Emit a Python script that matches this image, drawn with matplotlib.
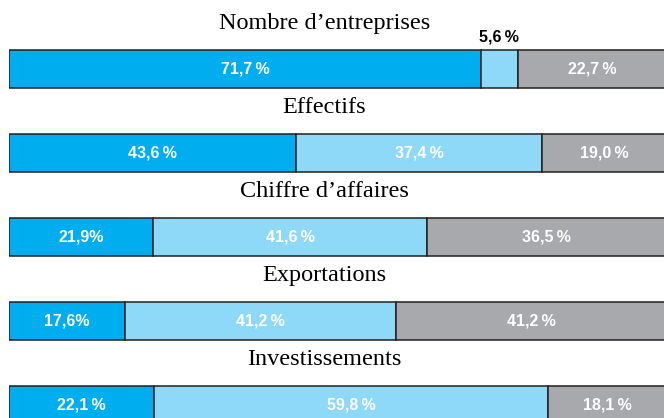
import numpy as np
import matplotlib.pyplot as plt
import matplotlib.transforms as mtransforms

# Données (parts en %)
categories = ["Nombre d\u2019entreprises", "Effectifs", "Chiffre d\u2019affaires",
              "Exportations", "Investissements"]
part1 = [71.7, 43.6, 21.9, 17.6, 22.1]
part2 = [5.6, 37.4, 41.6, 41.2, 59.8]
part3 = [22.7, 19.0, 36.5, 41.2, 18.1]
labels1 = ["71,7\u2009%", "43,6\u2009%", "21,9%", "17,6%", "22,1\u2009%"]
labels2 = ["5,6\u2009%", "37,4\u2009%", "41,6\u2009%", "41,2\u2009%", "59,8\u2009%"]
labels3 = ["22,7\u2009%", "19,0\u2009%", "36,5\u2009%", "41,2\u2009%", "18,1\u2009%"]

colors = ["#00AEEF", "#8ED8F8", "#A7A9AC"]
lab_font = ["Liberation Sans Narrow", "Liberation Sans", "DejaVu Sans"]

fig = plt.figure(figsize=(6.64, 4.18), dpi=100)
ax = fig.add_axes([9 / 664, 0, 658 / 664, 1])

y = np.arange(len(categories))
h = 0.452
left = np.zeros(len(categories))
for vals, labs, col in zip([part1, part2, part3], [labels1, labels2, labels3], colors):
    vals = np.array(vals)
    ax.barh(y, vals, left=left, height=h, color=col, edgecolor="#231F20", linewidth=1.1)
    for i, (v, l) in enumerate(zip(vals, labs)):
        cx = left[i] + v / 2
        if v < 10:
            # petit segment : étiquette au-dessus, en noir
            ax.text(cx, y[i] - 0.38, l, ha="center", va="center", color="black",
                    fontsize=11.5, fontweight="bold", family=lab_font)
        else:
            ax.text(cx, y[i], l, ha="center", va="center", color="white",
                    fontsize=11.5, fontweight="bold", family=lab_font)
    left = left + vals

# Titres au-dessus de chaque barre
trans = mtransforms.blended_transform_factory(ax.transAxes, ax.transData)
for i, c in enumerate(categories):
    ax.text(0.479, y[i] - 0.54, c, transform=trans, ha="center", va="center",
            fontsize=17.5, family=["Liberation Serif", "DejaVu Serif"])

ax.set_xlim(0, 100)
ax.set_ylim(4.155, -0.821)
ax.axis("off")

fig.savefig("out.png", dpi=100)
